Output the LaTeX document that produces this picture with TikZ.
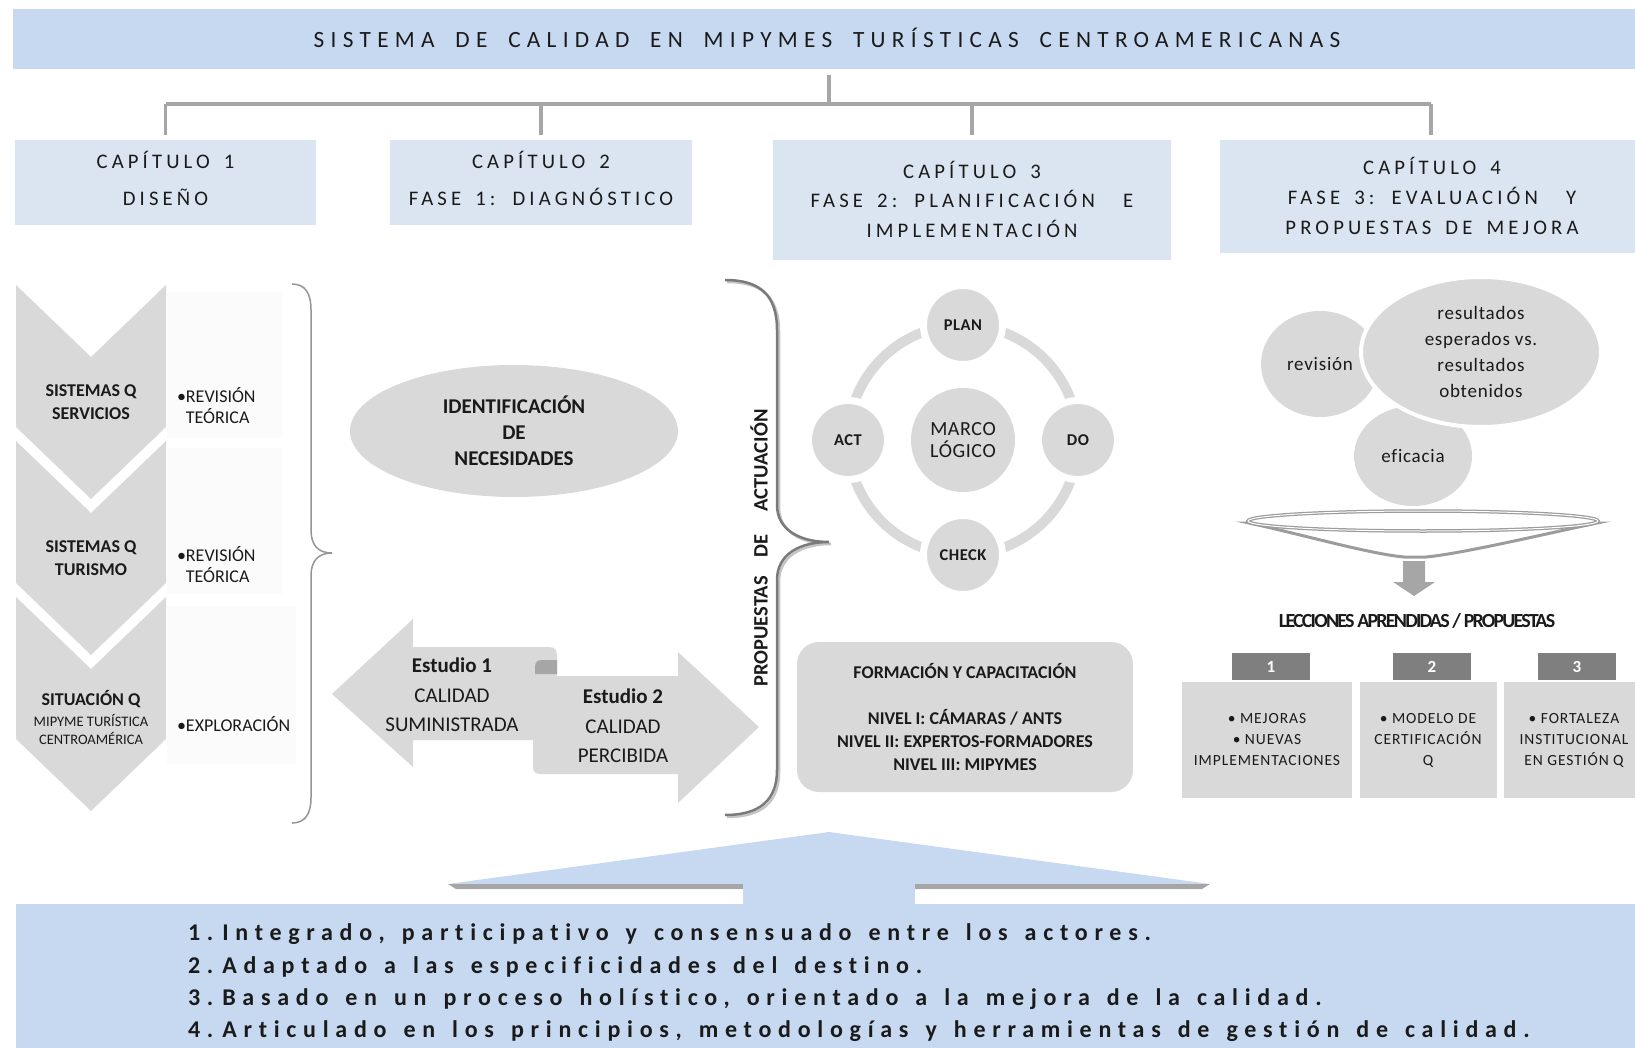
\documentclass[tikz,border=0pt]{standalone}
\usepackage{fontspec}
\setmainfont{Carlito}[Ligatures={NoCommon}]
\usetikzlibrary{shapes.geometric}

\definecolor{bandblue}{HTML}{C6D9F1}
\definecolor{capblue}{HTML}{DBE5F1}
\definecolor{softgray}{HTML}{D9D9D9}
\definecolor{linegray}{HTML}{A6A6A6}
\definecolor{tabgray}{HTML}{7F7F7F}
\definecolor{palegray}{HTML}{FBFBFB}
\definecolor{bracegray}{HTML}{7A7A7A}
\definecolor{braceshadow}{HTML}{C4C4C4}
\definecolor{inkgray}{HTML}{1A1A1A}
\definecolor{funnelgray}{HTML}{9C9C9C}

\newcommand{\fsz}[2]{\fontsize{#1}{#2}\selectfont}
% letter spacing (per cent of em) and a factor for the word space
\newcommand{\lsp}[2]{\addfontfeatures{LetterSpace=#1}%
  \spaceskip=#2\fontdimen2\font plus 1pt minus 1pt\relax}

\tikzset{
  every node/.style={inner sep=0pt, outer sep=0pt, text=inkgray},
  titlebox/.style={fill=bandblue},
  capbox/.style={fill=capblue},
  captext/.style={align=center},
  chevtext/.style={align=center, font=\bfseries\fsz{18}{23}},
  bultext/.style={align=left, anchor=west, font=\fsz{18}{21}},
  grayshape/.style={fill=softgray},
  pdca/.style={circle, fill=softgray, draw=white, line width=7pt,
    minimum size=79pt, font=\bfseries\fsz{16.5}{20}\lsp{3}{1}},
  bubble/.style={ellipse, fill=softgray, align=center,
    font=\fsz{19}{26}\lsp{4}{1}},
  tab/.style={fill=tabgray, minimum width=78pt, minimum height=27pt,
    text=white, font=\bfseries\fsz{17}{20}},
  lesson/.style={fill=softgray, minimum height=116pt, align=center,
    font=\fsz{15.5}{21}\lsp{6}{1}},
  bus/.style={draw=linegray, line width=4pt},
  principle/.style={anchor=base west, font=\bfseries\fsz{24}{28}\lsp{28}{1.4}},
}

\begin{document}
\begin{tikzpicture}[x=1pt, y=-1pt]
\useasboundingbox (0,0) rectangle (1635,1048);
\clip (0,0) rectangle (1635,1048);

% ---------- header and chapter boxes ----------
\node[titlebox, minimum width=1632pt, minimum height=60pt] (title) at (829,39) {};
\node[font=\fsz{23.3}{26}\lsp{27}{1.8}] (titlet) at (827,37.5)
  {SISTEMA DE CALIDAD EN MIPYMES TURÍSTICAS CENTROAMERICANAS};

\node[capbox, minimum width=301pt, minimum height=85pt] (cap1) at (165.5,182.5) {};
\node[capbox, minimum width=302pt, minimum height=85pt] (cap2) at (541,182.5) {};
\node[capbox, minimum width=398pt, minimum height=120pt] (cap3) at (972,200) {};
\node[capbox, minimum width=422pt, minimum height=113pt] (cap4) at (1431,196.5) {};

\node[captext, font=\fsz{20.7}{37}\lsp{20}{1.6}] (cap1t) at (165.5,178.5)
  {CAPÍTULO 1\\DISEÑO};
\node[captext, font=\fsz{20.7}{37}\lsp{20}{1.6}] (cap2t) at (541,178.5)
  {CAPÍTULO 2\\FASE 1: DIAGNÓSTICO};
\node[captext, font=\fsz{20.7}{29.5}\lsp{20}{1.6}] (cap3t) at (972,199)
  {CAPÍTULO 3\\FASE 2: PLANIFICACIÓN~ E\\IMPLEMENTACIÓN};
\node[captext, font=\fsz{20.7}{30}\lsp{20}{1.6}] (cap4t) at (1432,196)
  {CAPÍTULO 4\\FASE 3: EVALUACIÓN~ Y\\PROPUESTAS DE MEJORA};

\coordinate (hub) at (829,104);
\draw[bus] ([yshift=-6pt]title.south) -- (hub);
\draw[bus] (cap1.north |- hub) -- (cap4.north |- hub);
\foreach \c in {cap1,cap2,cap3,cap4}
  \draw[bus, line width=3.5pt] (\c.north |- hub) -- ([yshift=5pt]\c.north);

% ---------- chapter 1: design chevrons ----------
\foreach \yy in {285,441,597}{
  \fill[grayshape] (16,\yy) -- (91,\yy+72) -- (166,\yy) -- (166,\yy+142)
    -- (91,\yy+214) -- (16,\yy+142) -- cycle;
}
\fill[palegray] (167,292) rectangle (282,438);
\fill[palegray] (167,448) rectangle (282,594);
\fill[palegray] (167,606) rectangle (296,764);

\node[chevtext] (serv) at (91,402) {SISTEMAS Q\\SERVICIOS};
\node[chevtext] (turi) at (91,558) {SISTEMAS Q\\TURISMO};
\node[chevtext] (situ) at (91,699) {SITUACIÓN Q};
\node[align=center, font=\fsz{14.5}{18}] (situb) at (91,729)
  {MIPYME TURÍSTICA\\CENTROAMÉRICA};

\node[bultext] (rev1) at (177,406) {•REVISIÓN\\\phantom{•}TEÓRICA};
\node[bultext] (rev2) at (177,565) {•REVISIÓN\\\phantom{•}TEÓRICA};
\node[bultext] (expl) at (177,724) {•EXPLORACIÓN};

\draw[bracegray!80, line width=1.5pt]
  (292,284) .. controls (305,284) and (311,293) .. (311,310) -- (311,530)
  .. controls (311,545) and (318,553) .. (332,553)
  .. controls (318,553) and (311,561) .. (311,576) -- (311,798)
  .. controls (311,814) and (305,823) .. (292,823);

% ---------- chapter 2: diagnosis ----------
\node[ellipse, grayshape, minimum width=328pt, minimum height=132pt,
      align=center, font=\bfseries\fsz{21}{26}] (need) at (514,431)
  {IDENTIFICACIÓN\\DE\\NECESIDADES};

\fill[grayshape] (332,694) -- (413,619) -- (413,647) -- (549,647)
  .. controls (555,647) and (557,650) .. (557,656) -- (557,676)
  -- (678,676) -- (678,652) -- (759,727) -- (678,803) -- (678,774)
  -- (541,774) .. controls (535,774) and (533,772) .. (533,766)
  -- (533,740) -- (413,740) -- (413,767) -- cycle;
\fill[linegray] (557,660) -- (541,660) .. controls (537,660) and (535,663)
  .. (535,667) -- (535,674) -- (557,674) -- cycle;

\node[align=center, font=\fsz{21}{29.5}] (est1) at (452,695)
  {\textbf{Estudio 1}\\CALIDAD\\SUMINISTRADA};
\node[align=center, font=\fsz{21}{29.5}] (est2) at (623,726)
  {\textbf{Estudio 2}\\CALIDAD\\PERCIBIDA};

\draw[braceshadow, line width=2.5pt, xshift=2pt, yshift=-2pt]
  (725,280) .. controls (760,280) and (777,295) .. (777,330) -- (777,505)
  .. controls (777,530) and (800,542) .. (829,542)
  .. controls (800,542) and (777,554) .. (777,580) -- (777,770)
  .. controls (777,800) and (760,815) .. (725,815);
\draw[bracegray, line width=2.5pt]
  (725,280) .. controls (760,280) and (777,295) .. (777,330) -- (777,505)
  .. controls (777,530) and (800,542) .. (829,542)
  .. controls (800,542) and (777,554) .. (777,580) -- (777,770)
  .. controls (777,800) and (760,815) .. (725,815);

\node[rotate=90, font=\bfseries\fsz{20.5}{24}] (prop) at (759,548)
  {PROPUESTAS\hspace{19pt}DE\hspace{23pt}ACTUACIÓN};

% ---------- chapter 3: planning cycle ----------
\draw[softgray, line width=10pt] (963,440) circle (115pt);
\node[circle, fill=softgray, minimum size=104pt, align=center,
      font=\fsz{20}{22}\lsp{3}{1}] (marco) at (963,440) {MARCO\\LÓGICO};
\node[pdca] (plan)  at (963,325) {PLAN};
\node[pdca] (do)    at (1078,440) {DO};
\node[pdca] (check) at (963,555) {CHECK};
\node[pdca] (act)   at (848,440) {ACT};

\node[grayshape, rounded corners=22pt, minimum width=336pt,
      minimum height=150pt, align=center, font=\bfseries\fsz{18}{23}]
  (form) at (965,717)
  {FORMACIÓN Y CAPACITACIÓN\\[23pt]NIVEL I: CÁMARAS / ANTS\\
   NIVEL II: EXPERTOS-FORMADORES\\NIVEL III: MIPYMES};

% ---------- chapter 4: evaluation ----------
\node[bubble, minimum width=118pt, minimum height=106pt] (revi) at (1320,364) {};
\node[bubble, minimum width=118pt, minimum height=100pt] (efi) at (1413,456) {};
\node[bubble, draw=white, line width=4pt, minimum width=240pt,
      minimum height=150pt] (resu) at (1481,352)
  {resultados\\esperados vs.\\resultados\\obtenidos};
\node[font=\fsz{19}{22}\lsp{4}{1}] (revit) at (revi.center) {revisión};
\node[font=\fsz{19}{22}\lsp{4}{1}] (efit) at (efi.center) {eficacia};

\fill[white, draw=funnelgray, line width=3pt]
  (1249,523) .. controls (1300,534) and (1370,554) .. (1404,557)
  -- (1426,557) .. controls (1460,554) and (1545,534) .. (1597,523) -- cycle;
\draw[funnelgray, line width=3.5pt, fill=white] (1423,521) ellipse (175pt and 10pt);
\draw[white, line width=1pt] (1423,521) ellipse (175pt and 10pt);

\fill[linegray] (1403,561) -- (1425,561) -- (1425,582) -- (1435,582)
  -- (1414,596) -- (1393,582) -- (1403,582) -- cycle;

\node[font=\bfseries\fsz{20}{22}\lsp{-9}{1}] (lecc) at (1417,621)
  {LECCIONES APRENDIDAS / PROPUESTAS};

\node[tab] (t1) at (1271,666.5) {1};
\node[tab] (t2) at (1432,666.5) {2};
\node[tab] (t3) at (1577,666.5) {3};

\node[lesson, minimum width=170pt] (l1) at (1267,740)
  {• MEJORAS\\• NUEVAS\\IMPLEMENTACIONES};
\node[lesson, minimum width=137pt] (l2) at (1428,740)
  {• MODELO DE\\CERTIFICACIÓN\\Q};
\node[lesson, minimum width=140pt] (l3) at (1574,740)
  {• FORTALEZA\\INSTITUCIONAL\\EN GESTIÓN Q};

% ---------- principles ----------
\fill[bandblue] (829,832) -- (1210,884) -- (448,884) -- cycle;
\fill[gray!70] (448,884) -- (743,884) -- (743,889) -- (456,889) -- cycle;
\fill[gray!70] (915,884) -- (1210,884) -- (1202,889) -- (915,889) -- cycle;
\fill[bandblue] (743,882) rectangle (915,906);

\node[fill=bandblue, minimum width=1629pt, minimum height=160pt,
      anchor=north west] (base) at (16,904) {};

\node[principle] (p1) at (188,940)
  {1.\hspace{9pt}Integrado, participativo y consensuado entre los actores.};
\node[principle] (p2) at (188,973)
  {2.\hspace{9pt}Adaptado a las especificidades del destino.};
\node[principle] (p3) at (188,1005)
  {3.\hspace{9pt}Basado en un proceso holístico, orientado a la mejora de la calidad.};
\node[principle] (p4) at (188,1037)
  {4.\hspace{9pt}Articulado en los principios, metodologías y herramientas de gestión de calidad.};

\end{tikzpicture}
\end{document}
